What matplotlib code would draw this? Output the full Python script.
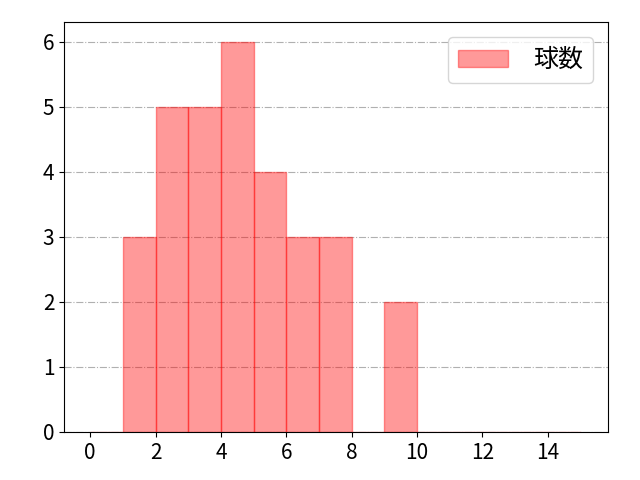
import numpy as np
import matplotlib
matplotlib.use("Agg")
import matplotlib.pyplot as plt

plt.rcParams['font.family'] = ['Noto Sans CJK JP', 'DejaVu Sans']

bin_edges = list(range(0, 16))
counts = [0, 3, 5, 5, 6, 4, 3, 3, 0, 2, 0, 0, 0, 0, 0]
label = '球数'

fig, ax = plt.subplots(figsize=(6.4, 4.8), dpi=100)
ax.hist(bin_edges[:-1], bins=bin_edges, weights=counts,
        color='red', alpha=0.4, edgecolor='red', label=label)
ax.set_xlim(-0.8, 15.84)
ax.set_xticks(range(0, 16, 2))
ax.grid(axis='y', linestyle='-.', color='#b0b0b0')
ax.set_axisbelow(True)
ax.legend(loc='upper right', fontsize=18, handletextpad=1.0, borderaxespad=0.6)
ax.tick_params(labelsize=15)
fig.subplots_adjust(left=0.1, right=0.95, top=0.954, bottom=0.1)
fig.savefig('out.png')
